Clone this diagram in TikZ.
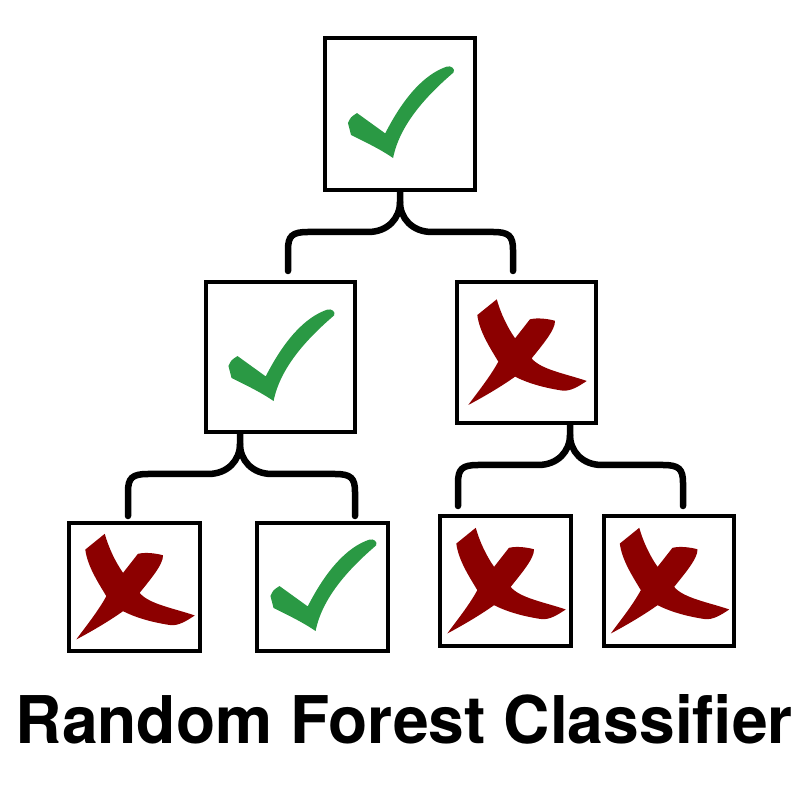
\documentclass[tikz,border=0pt]{standalone}
\usepackage{fontspec}
\setsansfont{TeX Gyre Heros}
\usepackage{graphicx}
\usetikzlibrary{calc}
\definecolor{tickgreen}{HTML}{2A9944}
\definecolor{crossred}{HTML}{8C0000}

% #1 stem, #2 left end, #3 right end
\newcommand{\forkdraw}[3]{%
  \coordinate (h) at ($(#1)+(0,40)$);
  \draw[fork] (#1) -- ++(0,10) .. controls +(0,16) and +(20,0) .. ($(h)+(-32,0)$)
    -- ($(h -| #2)+(20,0)$) .. controls +(-16,0) and +(0,-14) .. ($(h -| #2)+(0,18)$) -- (#2);
  \draw[fork] ($(#1)+(0,10)$) .. controls +(0,16) and +(-20,0) .. ($(h)+(32,0)$)
    -- ($(h -| #3)+(-20,0)$) .. controls +(16,0) and +(0,-14) .. ($(h -| #3)+(0,18)$) -- (#3);
}

\begin{document}
\begin{tikzpicture}[x=0.1mm,y=-0.1mm,
    leaf/.style={draw,line width=0.4mm,inner sep=0pt},
    fork/.style={line width=0.65mm,line cap=round,line join=round},
    tick/.pic={
      \fill[tickgreen,scale=1.54] (-27.9,-0.6) -- (-9.6,12.6)
        .. controls (2.4,-11) and (16,-26) .. (30.5,-30.8)
        .. controls (33,-31.5) and (36,-29.5) .. (34.8,-27)
        .. controls (18.5,-13) and (0,6) .. (-4.5,28.6)
        .. controls (-13,22.7) and (-22.7,18.2) .. (-31.8,13.6)
        -- (-33.8,5.8) .. controls (-32,2) .. cycle;
    },
    cross/.pic={
      \fill[crossred,scale=1.43] (-20.8,-37.2) .. controls (-18,-27) and (-13,-17) .. (-8,-9.9)
        .. controls (-4,-15) .. (2.4,-23.2)
        .. controls (8,-24.5) and (15,-23.5) .. (19.9,-22.2)
        .. controls (20.5,-16) and (10,-4) .. (3.6,4.1)
        .. controls (10,12) and (28,15) .. (42.1,19.9)
        .. controls (36,24) and (31,27) .. (25.5,26.7)
        .. controls (14,25) and (2,22) .. (-8,16.9)
        .. controls (-18,24) and (-30,31) .. (-40.7,36.7)
        .. controls (-36,30) and (-26,18) .. (-19.7,6.4)
        .. controls (-26,-4) and (-33,-15) .. (-34.4,-26.2)
        -- cycle;
    }]
  \useasboundingbox (0,0) rectangle (800,800);

  \node[leaf,minimum width=15.0mm,minimum height=15.2mm] (root) at (400,114) {};
  \node[leaf,minimum width=14.9mm,minimum height=15.0mm] (left) at (280.5,357) {};
  \node[leaf,minimum width=13.9mm,minimum height=14.1mm] (right) at (526.5,352.5) {};
  \node[leaf,minimum width=13.1mm,minimum height=12.8mm] (ll) at (134.5,587) {};
  \node[leaf,minimum width=13.1mm,minimum height=12.8mm] (lr) at (322.5,587) {};
  \node[leaf,minimum width=13.1mm,minimum height=13.0mm] (rl) at (505.5,581) {};
  \node[leaf,minimum width=13.0mm,minimum height=13.0mm] (rr) at (669,581) {};

  \pic at (root) {tick};
  \pic at (left) {tick};
  \pic at (right) {cross};
  \pic at (ll) {cross};
  \pic at (lr) {tick};
  \pic at (rl) {cross};
  \pic at (rr) {cross};

  \coordinate (rootstem) at (root.south);
  \coordinate (leftstem) at ($(left.south)+(-40.5,0)$);
  \coordinate (rightstem) at ($(right.south)+(43.5,0)$);
  \coordinate (leftend) at ($(left.north)+(7.5,-9)$);
  \coordinate (rightend) at ($(right.north)+(-13.5,-9)$);
  \coordinate (llend) at ($(ll.north)+(-6.5,-5)$);
  \coordinate (lrend) at ($(lr.north)+(32.5,-5)$);
  \coordinate (rlend) at ($(rl.north)+(-47.5,-8)$);
  \coordinate (rrend) at ($(rr.north)+(14,-8)$);

  \forkdraw{rootstem}{leftend}{rightend}
  \forkdraw{leftstem}{llend}{lrend}
  \forkdraw{rightstem}{rlend}{rrend}

  \node[anchor=south west,inner sep=0pt] (title) at (15,745)
    {\resizebox{77.7mm}{4.9mm}{\sffamily\bfseries Random Forest Classifier}};
\end{tikzpicture}
\end{document}
